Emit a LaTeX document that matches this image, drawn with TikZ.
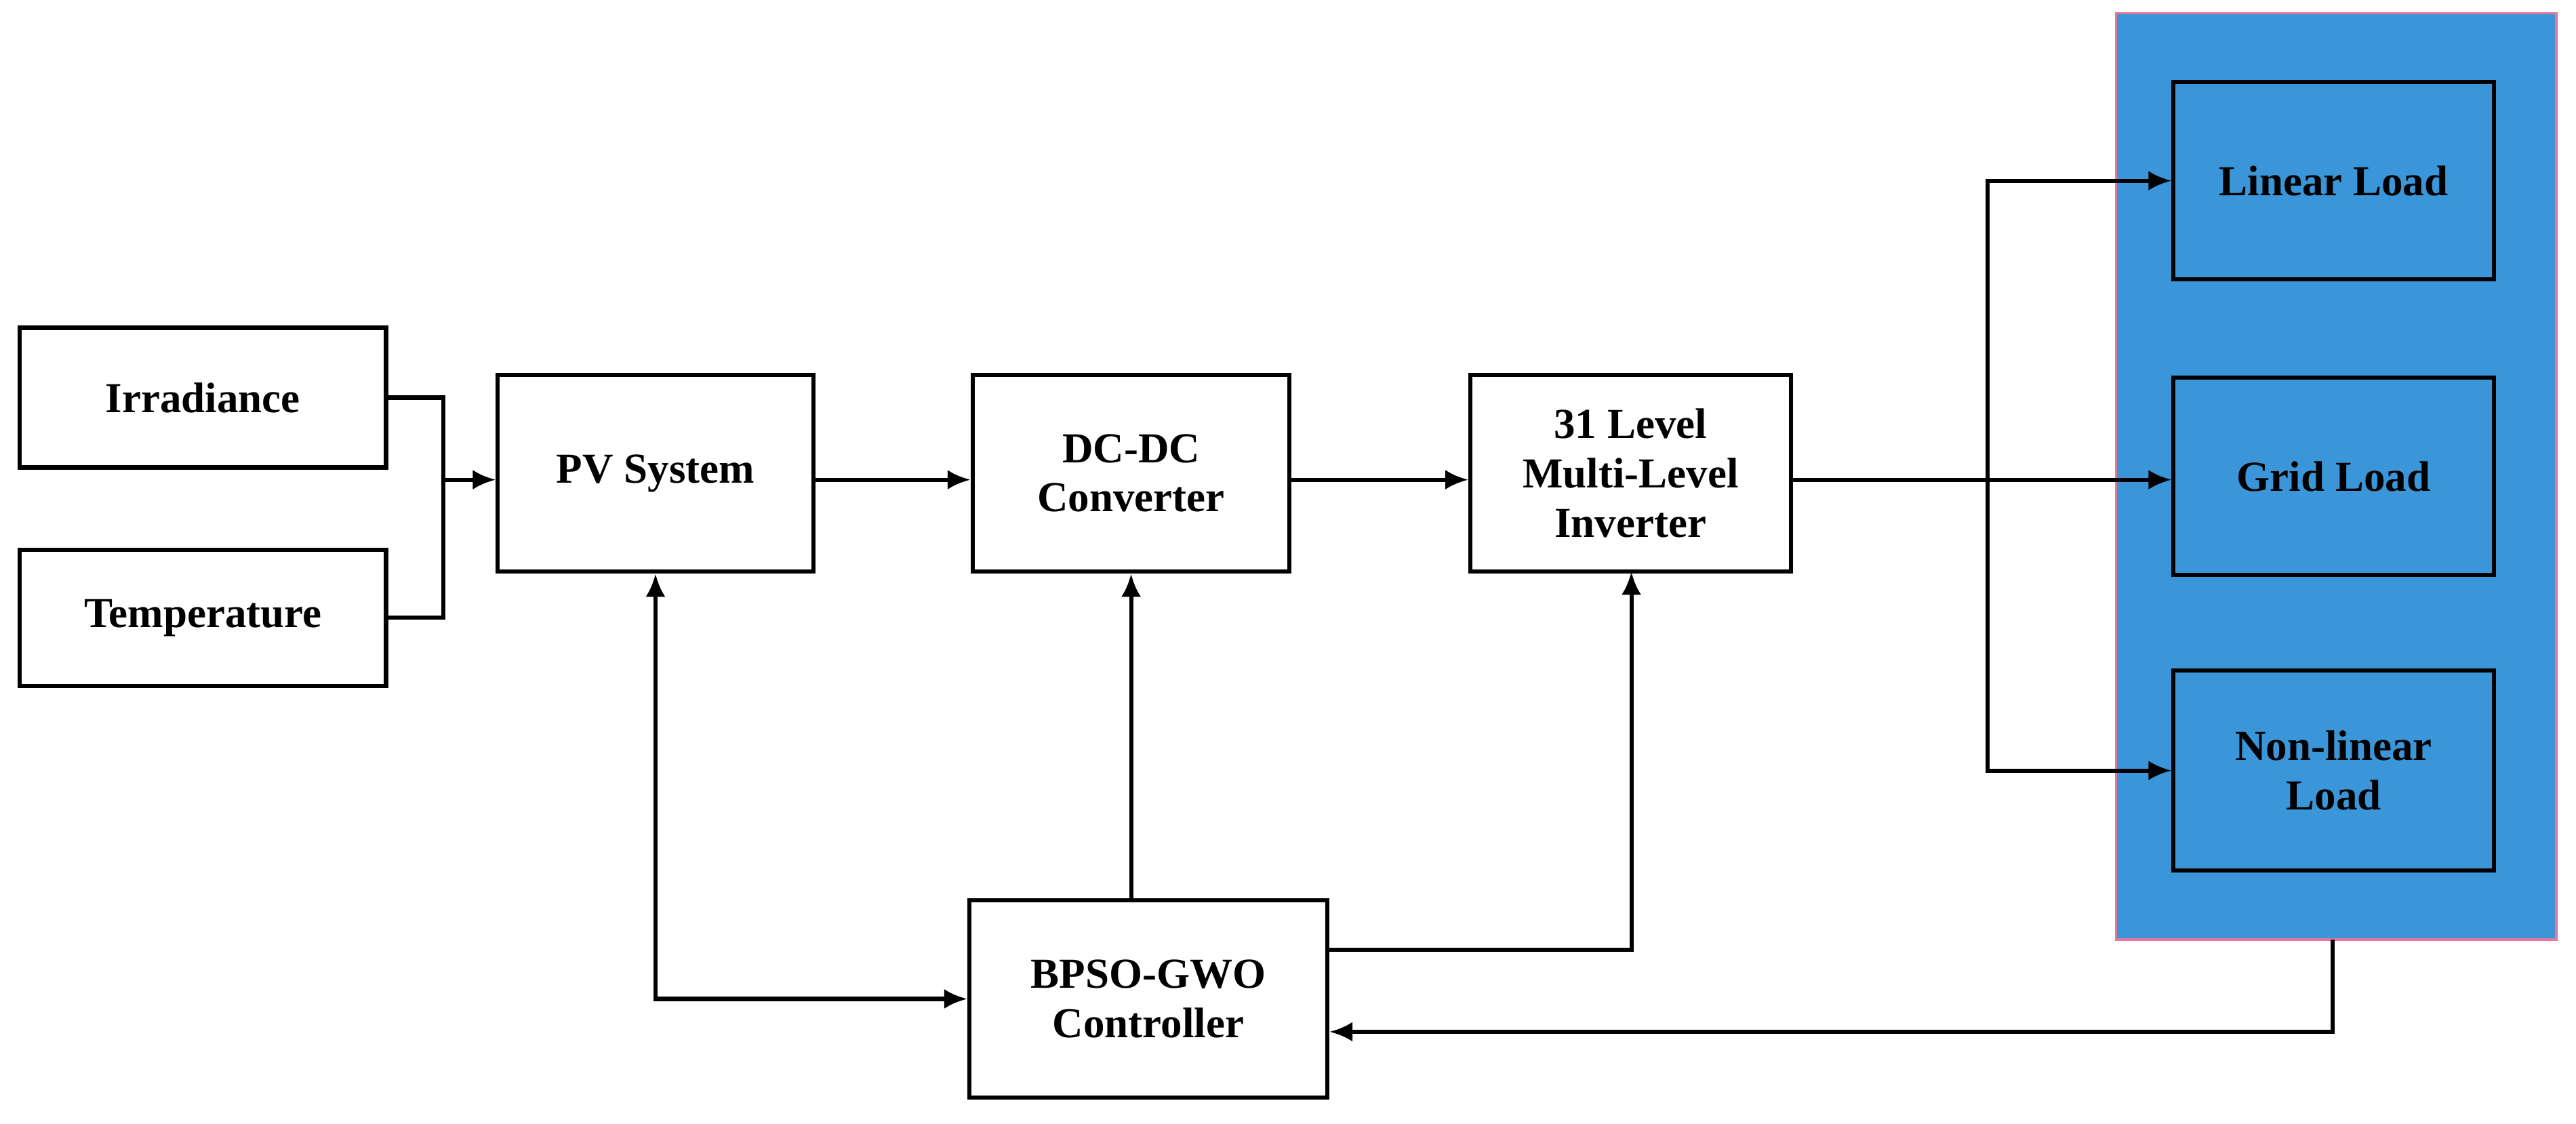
\documentclass[tikz,border=0pt]{standalone}
\usepackage{fontspec}
\setmainfont{Liberation Serif}
\usetikzlibrary{arrows.meta}
\definecolor{bluebg}{RGB}{58,150,216}
\definecolor{pinkb}{RGB}{230,120,160}
\begin{document}
\begin{tikzpicture}[x=1pt,y=-1pt,
  arr/.style={line width=2.5pt,-{Latex[length=14pt,width=12pt]}},
  ln/.style={line width=2.5pt},
  font=\fontsize{26}{30}\selectfont\bfseries]
\useasboundingbox (0,0) rectangle (1568,684);
\fill[bluebg] (1288,8) rectangle (1556,572);
\draw[line width=1.5pt,pinkb] (1288,8) rectangle (1556,572);
\node[draw,line width=2.5pt,minimum width=223pt,minimum height=85pt] (irr) at (123.5,242) {Irradiance};
\node[draw,line width=2.5pt,minimum width=223pt,minimum height=83pt] (tem) at (123.5,376) {Temperature};
\node[draw,line width=2.5pt,minimum width=192pt,minimum height=120pt] (pv) at (399,288) {PV System};
\node[draw,line width=2.5pt,minimum width=193pt,minimum height=120pt,align=center] (dc) at (688.5,288) {DC-DC\\Converter};
\node[draw,line width=2.5pt,minimum width=195pt,minimum height=120pt,align=center] (inv) at (992.5,288) {31 Level\\Multi-Level\\Inverter};
\node[draw,line width=2.5pt,minimum width=218pt,minimum height=120pt,align=center] (ctl) at (699,608) {BPSO-GWO\\Controller};
\node[draw,line width=2.5pt,minimum width=195pt,minimum height=120pt] (lin) at (1420.5,110) {Linear Load};
\node[draw,line width=2.5pt,minimum width=195pt,minimum height=120pt] (grid) at (1420.5,290) {Grid Load};
\node[draw,line width=2.5pt,minimum width=195pt,minimum height=122pt,align=center] (nl) at (1420.5,469) {Non-linear\\Load};
\coordinate (j) at (270,292);
\coordinate (b) at (1210,292);
\coordinate (ib) at (993,348);
\coordinate (fb) at (1420,572);
\draw[ln] (irr.east) -| (j);
\draw[ln] (tem.east) -| (j);
\draw[arr] (j) -- (j-|pv.west);
\draw[arr] (pv.east|-j) -- (dc.west|-j);
\draw[arr] (dc.east|-j) -- (inv.west|-j);
\draw[arr] (inv.east|-j) -- (grid.west|-j);
\draw[arr] (b) |- (lin.west);
\draw[arr] (b) |- (nl.west);
\draw[arr] (ctl.north-|dc.south) -- (dc.south);
\draw[arr] (ctl.east|-0,578) -| (ib);
\draw[line width=2.5pt,{Latex[length=14pt,width=12pt]}-{Latex[length=14pt,width=12pt]}] (pv.south) |- (ctl.west);
\draw[arr] (fb) |- (ctl.east|-0,628);
\end{tikzpicture}
\end{document}
